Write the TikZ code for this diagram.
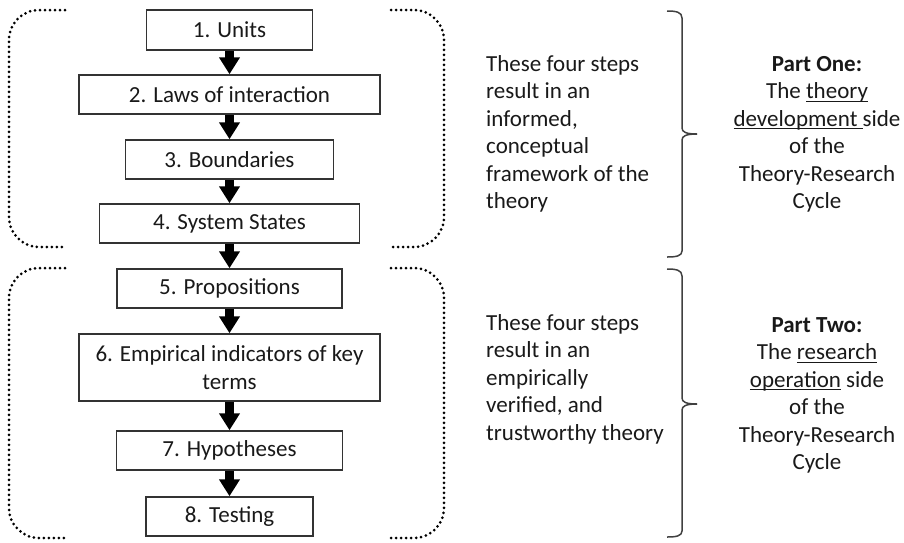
\documentclass[tikz,border=0pt]{standalone}
\usepackage{fontspec}
\setmainfont{Carlito}
\usetikzlibrary{arrows.meta}
% underline drawn through the descenders, as a fixed rule under the baseline
\newcommand\undl[1]{\setbox0\hbox{#1}\rlap{\rule[-3pt]{\wd0}{1.2pt}}\box0\relax}
\tikzset{
  stepbox/.style={draw=black!80, line width=1.5pt, fill=white, inner sep=0pt,
    align=center, text=black!90},
  flow/.style={line width=9pt, -{Triangle[width=20pt,length=17pt]}, black},
  dotgroup/.style={line width=3pt, line cap=round, dash pattern=on 0pt off 5pt,
    rounded corners=30pt, black},
  brace/.style={line width=1.5pt, black!75},
  note/.style={inner sep=0pt, text=black!90},
}
\begin{document}
\begin{tikzpicture}[x=1pt, y=-1pt, font=\fontsize{23pt}{27.5pt}\selectfont]
\useasboundingbox (0,0) rectangle (904,542);

% the eight steps
\node[stepbox, minimum width=166pt, minimum height=40pt] (s1) at (229.5,30) {1. Units};
\node[stepbox, minimum width=301pt, minimum height=39pt] (s2) at (229.5,94.5) {2. Laws of interaction};
\node[stepbox, minimum width=208pt, minimum height=39pt] (s3) at (229.5,159.5) {3. Boundaries};
\node[stepbox, minimum width=260pt, minimum height=39pt] (s4) at (229.5,223.5) {4. System States};
\node[stepbox, minimum width=225pt, minimum height=39pt] (s5) at (229.5,288.5) {5. Propositions};
\node[stepbox, minimum width=301pt, minimum height=67pt] (s6) at (229.5,367.5) {6. Empirical indicators of key\\terms};
\node[stepbox, minimum width=226pt, minimum height=39pt] (s7) at (229.5,450.5) {7. Hypotheses};
\node[stepbox, minimum width=167pt, minimum height=39pt] (s8) at (229.5,516.5) {8. Testing};

% arrows between consecutive steps
\foreach \a/\b in {s1/s2,s2/s3,s3/s4,s4/s5,s5/s6,s6/s7,s7/s8}
  \draw[flow] (\a.south) -- (\b.north);

% dotted parentheses round each group of four steps
\draw[dotgroup] (65,10) -- (9,10) -- (9,247) -- (65,247);
\draw[dotgroup] (391,10) -- (444,10) -- (444,247) -- (391,247);
\draw[dotgroup] (65,268) -- (9,268) -- (9,538) -- (65,538);
\draw[dotgroup] (391,268) -- (444,268) -- (444,538) -- (391,538);

% descriptions of each group
\node[note, anchor=west, align=left] (d1) at (486,134) {These four steps\\result in an\\informed,\\conceptual\\framework of the\\theory};
\node[note, anchor=west, align=left] (d2) at (486,379) {These four steps\\result in an\\empirically\\verified, and\\trustworthy theory};

% right braces
\coordinate (t1) at (697,134);
\coordinate (t2) at (697,404);
\draw[brace] (667,11) .. controls (676,11) and (682,12) .. (682,18) -- (682,128)
  .. controls (682,132) and (686,134) .. (t1);
\draw[brace] (t1) .. controls (686,134) and (682,136) .. (682,140) -- (682,251)
  .. controls (682,256) and (676,257) .. (667,257);
\draw[brace] (667,269) .. controls (676,269) and (682,270) .. (682,276) -- (682,398)
  .. controls (682,402) and (686,404) .. (t2);
\draw[brace] (t2) .. controls (686,404) and (682,406) .. (682,410) -- (682,531)
  .. controls (682,536) and (676,537) .. (667,537);

% the two parts of the cycle
\node[note, align=center] (p1) at (817,134.5) {\textbf{Part One:}\\The \undl{theory}\\\undl{development }side\\of the\\Theory-Research\\Cycle};
\node[note, align=center] (p2) at (817,395.5) {\textbf{Part Two:}\\The \undl{research}\\\undl{operation} side\\of the\\Theory-Research\\Cycle};
\end{tikzpicture}
\end{document}
